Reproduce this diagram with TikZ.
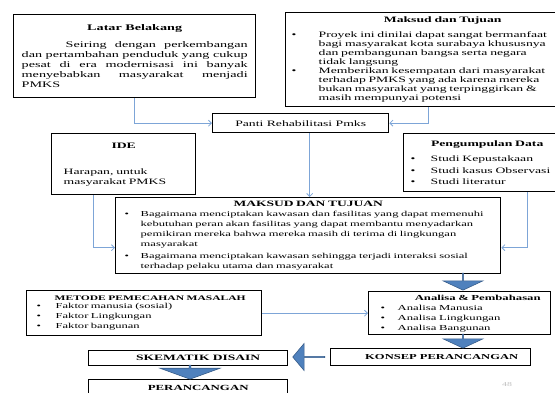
\documentclass[tikz,border=0pt]{standalone}
\usepackage{fontspec}
\setmainfont{Liberation Serif}[FakeStretch=1.65]
\usepackage{tikz}
\usetikzlibrary{calc,positioning,arrows.meta,shapes.arrows}
\definecolor{linkblue}{RGB}{125,165,215}
\definecolor{fatblue}{RGB}{79,129,189}
\definecolor{fatedge}{RGB}{56,93,138}
\tikzset{>={Straight Barb[length=3pt,width=6pt]}}
\tikzset{
  box/.style={draw=black, line width=1.4pt, anchor=north west, inner ysep=1pt, align=left},
  link/.style={draw=linkblue, line width=0.8pt, ->},
  fatarrow/.style={single arrow, draw=fatedge, fill=fatblue, line width=0.6pt, inner sep=0pt, single arrow head indent=0pt}
}
\newcommand{\bul}[3]{\par\noindent\hangindent=#2\hangafter=1\makebox[#2][l]{\hspace{#1}\textbullet}#3\par}

\begin{document}
\begin{tikzpicture}[x=1pt,y=-1pt]
      \useasboundingbox (0,0) rectangle (555,392);
      \node[box, minimum width=242pt, minimum height=83pt, inner xsep=8pt, text width=226pt, align=justify, font=\fontsize{8.6}{10}\selectfont] (latar) at (13,14)
        {{\centering\bfseries Latar Belakang\par}\vspace{7pt}
         \noindent\hspace*{44pt}Seiring dengan perkembangan\linebreak dan pertambahan penduduk yang cukup\linebreak pesat di era modernisasi ini banyak\linebreak menyebabkan masyarakat menjadi\linebreak PMKS};
      \node[box, minimum width=285pt, minimum height=94pt, inner xsep=4pt, text width=277pt, font=\fontsize{8.3}{9}\selectfont] (tujuan) at (285,12)
        {{\centering\hspace*{29pt}\bfseries Maksud dan Tujuan\par}\vspace{6pt}
         \bul{2pt}{29pt}{Proyek ini dinilai dapat sangat bermanfaat\newline bagi masyarakat kota surabaya khususnya\newline dan pembangunan  bangsa serta negara\newline tidak langsung}
         \bul{2pt}{29pt}{Memberikan kesempatan dari masyarakat\newline terhadap  PMKS yang ada karena mereka\newline bukan masyarakat yang terpinggirkan \&\newline masih mempunyai potensi}};
      \node[box, minimum width=176pt, minimum height=19pt, inner sep=0pt, font=\fontsize{8.3}{9}\selectfont] (panti) at (212,113) {Panti Rehabilitasi  Pmks};
      \node[box, minimum width=144pt, minimum height=61pt, inner xsep=12pt, text width=120pt, font=\fontsize{8.3}{10}\selectfont] (ide) at (51,133)
        {{\centering\bfseries IDE\par}\vspace{16pt}
         Harapan,  untuk\newline masyarakat  PMKS};
      \node[box, minimum width=167pt, minimum height=58pt, inner xsep=4pt, text width=159pt, font=\fontsize{8.3}{11.5}\selectfont] (data) at (403,133)
        {{\centering\bfseries Pengumpulan Data\par}\vspace{4pt}
         \bul{3pt}{23pt}{Studi Kepustakaan}
         \bul{3pt}{23pt}{Studi kasus  Observasi}
         \bul{3pt}{23pt}{Studi literatur}};
      \node[box, minimum width=385pt, minimum height=76pt, inner xsep=5pt, text width=375pt, font=\fontsize{7.6}{10}\selectfont] (maksud) at (115,197)
        {{\centering\fontsize{8.2}{10}\selectfont\bfseries MAKSUD  DAN  TUJUAN\par}
         \bul{4pt}{20pt}{Bagaimana menciptakan kawasan dan fasilitas yang dapat memenuhi\newline kebutuhan peran akan fasilitas  yang dapat membantu menyadarkan\newline pemikiran mereka bahwa mereka masih di terima di lingkungan\newline masyarakat}\vspace{2pt}
         \bul{4pt}{20pt}{Bagaimana menciptakan kawasan sehingga terjadi interaksi sosial\newline terhadap pelaku utama dan masyarakat}};
      \node[box, minimum width=235pt, minimum height=45pt, inner xsep=6pt, text width=223pt, font=\fontsize{7.6}{10}\selectfont] (metode) at (26,290)
        {{\centering\hspace*{12pt}\fontsize{7}{9}\selectfont\bfseries METODE  PEMECAHAN  MASALAH\par}\vspace{-2pt}
         \bul{4pt}{23pt}{Faktor manusia (sosial)}
         \bul{4pt}{23pt}{Faktor Lingkungan}
         \bul{4pt}{23pt}{Faktor bangunan}};
      \node[box, minimum width=182pt, minimum height=43pt, inner xsep=8pt, text width=166pt, font=\fontsize{7.7}{10}\selectfont] (analisa) at (368,291)
        {{\centering\hspace*{36pt}\bfseries Analisa \& Pembahasan\par}
         \bul{4pt}{21pt}{Analisa Manusia}
         \bul{4pt}{21pt}{Analisa Lingkungan}
         \bul{4pt}{21pt}{Analisa Bangunan}};
      \node[box, minimum width=199pt, minimum height=15pt, inner sep=0pt, font=\fontsize{8.2}{9}\selectfont\bfseries] (skematik) at (88,350) {\hspace*{20pt}SKEMATIK DISAIN};
      \node[box, minimum width=199pt, minimum height=16pt, inner sep=0pt, font=\fontsize{7.8}{9}\selectfont\bfseries] (rancang) at (88,379) {\hspace*{20pt}PERANCANGAN};
      \node[box, minimum width=200pt, minimum height=17pt, inner sep=0pt, font=\fontsize{7.6}{9}\selectfont\bfseries] (konsep) at (330,348) {\hspace*{22pt}KONSEP PERANCANGAN};
      \node[fatarrow, rotate=-90, minimum height=17pt, minimum width=40pt, single arrow head extend=10pt, single arrow tip angle=130] (panah1) at (463,281.5) {};
      \node[fatarrow, rotate=-90, minimum height=14pt, minimum width=40pt, single arrow head extend=10pt, single arrow tip angle=130] (panah2) at (463,341) {};
      \node[fatarrow, rotate=180, minimum height=32pt, minimum width=27pt, single arrow head extend=6.5pt, single arrow tip angle=100] (panah3) at (309,357) {};
      \node[fatarrow, rotate=-90, minimum height=14pt, minimum width=60pt, single arrow head extend=10pt, single arrow tip angle=140] (panah4) at (190,372) {};
      \draw[link] (latar.south) |- (panti.west);
      \draw[link] (tujuan.south) |- (panti.east);
      \draw[link] ([xshift=9pt]panti.south) -- ([xshift=9pt]panti.south |- maksud.north);
      \draw[link] ([xshift=-30pt]ide.south) |- ([yshift=-12pt]maksud.west);
      \draw[link] ([xshift=40pt]data.south) |- ([yshift=-12pt]maksud.east);
      \draw[link] (metode.east) -- (analisa.west);
      \node[text=black!25, font=\fontsize{6}{6}\selectfont] (hal) at (507,385) {48};
    \end{tikzpicture}
\end{document}
